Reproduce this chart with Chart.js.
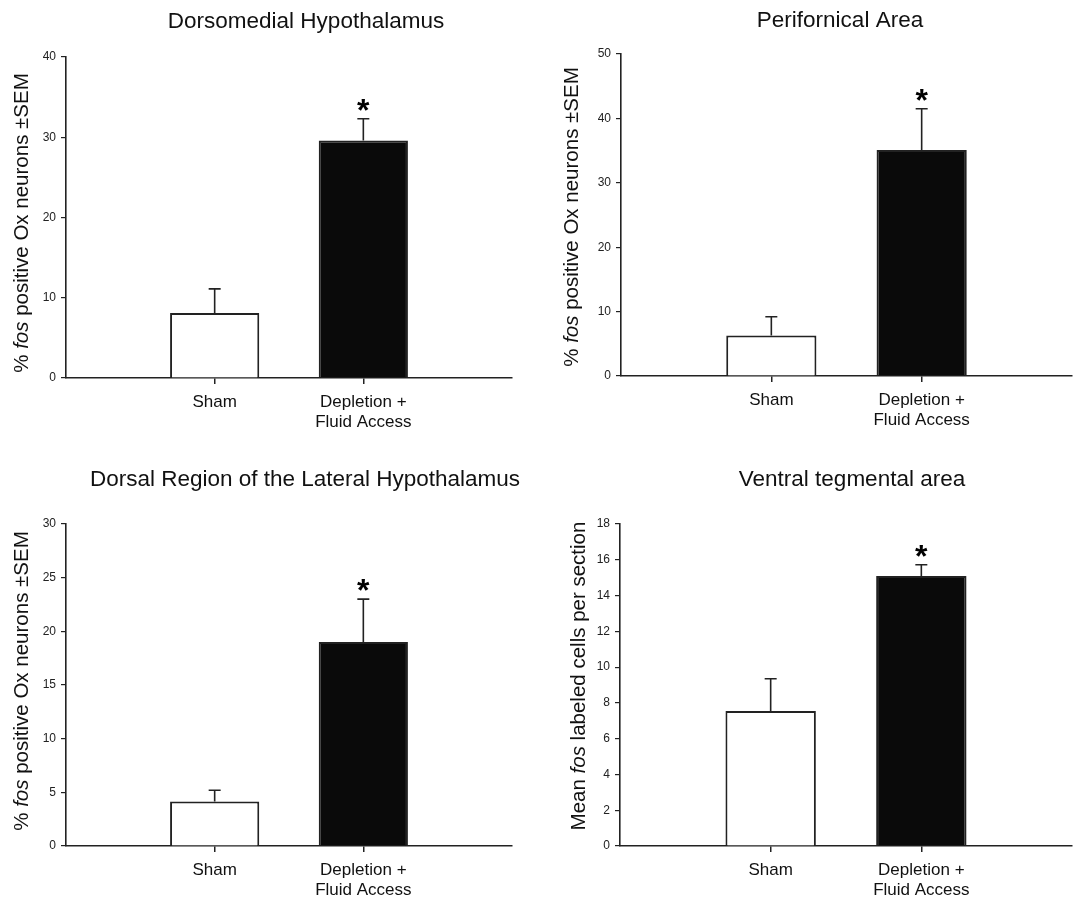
<!DOCTYPE html>
<html>
<head>
<meta charset="utf-8">
<script src="https://cdn.jsdelivr.net/npm/chart.js@4"></script>
<style>
  body { margin: 0; background: #fff; }
  #wrap { position: relative; width: 1073px; height: 898px; }
  canvas { position: absolute; }
</style>
</head>
<body>
<div id="wrap">
  <canvas id="dmh" width="536" height="449" style="left:0;top:0"></canvas>
  <canvas id="pef" width="537" height="449" style="left:536px;top:0"></canvas>
  <canvas id="dlh" width="536" height="449" style="left:0;top:449px"></canvas>
  <canvas id="vta" width="537" height="449" style="left:536px;top:449px"></canvas>
</div>
<script>
// Data
const groups = ['Sham', ['Depletion +', 'Fluid Access']];
const barColors = ['#ffffff', '#0a0a0a'];
const sigMarks = ['', '*'];

const dmhMeans = [8.1, 29.6];
const dmhSem = [3.0, 2.7];
const dmhTicks = [0, 10, 20, 30, 40];

const pefMeans = [6.3, 35.1];
const pefSem = [2.9, 6.4];
const pefTicks = [0, 10, 20, 30, 40, 50];

const dlhMeans = [4.15, 19.0];
const dlhSem = [1.05, 4.0];
const dlhTicks = [0, 5, 10, 15, 20, 25, 30];

const vtaMeans = [7.55, 15.1];
const vtaSem = [1.8, 0.62];
const vtaTicks = [0, 2, 4, 6, 8, 10, 12, 14, 16, 18];

const oxTitle = [['% ', false], ['fos', true], [' positive Ox neurons \u00b1SEM', false]];
const vtaTitle = [['Mean ', false], ['fos', true], [' labeled cells per section', false]];

const FONT = '"Liberation Sans", Arial, sans-serif';
Chart.defaults.font.family = FONT;
Chart.defaults.color = '#222';

const INK = '#222';

// Draws panel title, y title (with italic part), error bars and asterisks
const decor = {
    id: 'decor',
    afterDatasetsDraw(chart, args, opts) {
        const ctx = chart.ctx;
        const xs = chart.scales.x;
        const ys = chart.scales.y;
        ctx.save();
        ctx.strokeStyle = INK;
        ctx.lineWidth = 1.6;
        opts.means.forEach((m, i) => {
            const x = xs.getPixelForValue(i + 1);
            const yb = ys.getPixelForValue(m);
            const yt = ys.getPixelForValue(m + opts.sem[i]);
            ctx.beginPath();
            ctx.moveTo(x, yb);
            ctx.lineTo(x, yt);
            ctx.moveTo(x - 6, yt);
            ctx.lineTo(x + 6, yt);
            ctx.stroke();
            if (sigMarks[i]) {
                ctx.fillStyle = '#000';
                ctx.font = 'bold 32px ' + FONT;
                ctx.textAlign = 'center';
                ctx.textBaseline = 'alphabetic';
                ctx.fillText(sigMarks[i], x, yt + 2);
            }
        });
        ctx.restore();
    },
    afterDraw(chart, args, opts) {
        const ctx = chart.ctx;
        ctx.save();
        ctx.fillStyle = '#111';
        ctx.textAlign = 'center';
        ctx.textBaseline = 'alphabetic';
        ctx.font = '22.5px ' + FONT;
        ctx.fillText(opts.title, opts.titleX, opts.titleY);

        // rotated y title with mixed fonts
        const fonts = opts.yParts.map(p => (p[1] ? 'italic ' : '') + '20.5px ' + FONT);
        let total = 0;
        const widths = opts.yParts.map((p, i) => {
            ctx.font = fonts[i];
            const w = ctx.measureText(p[0]).width;
            total += w;
            return w;
        });
        ctx.translate(opts.yTitleX, opts.yTitleY);
        ctx.rotate(-Math.PI / 2);
        ctx.textAlign = 'left';
        ctx.textBaseline = 'middle';
        let pos = -total / 2;
        opts.yParts.forEach((p, i) => {
            ctx.font = fonts[i];
            ctx.fillText(p[0], pos, 0);
            pos += widths[i];
        });
        ctx.restore();
    }
};

function makePanel(id, means, sem, ticks, yParts, box) {
    const canvas = document.getElementById(id);
    const W = canvas.width, H = canvas.height;
    return new Chart(canvas, {
        type: 'bar',
        data: {
            datasets: [{
                data: means.map((v, i) => ({ x: i + 1, y: v })),
                backgroundColor: barColors,
                borderColor: INK,
                borderWidth: 2,
                barPercentage: 0.6,
                categoryPercentage: 1
            }]
        },
        options: {
            responsive: false,
            animation: false,
            events: [],
            layout: {
                padding: { left: 0, top: box.top, right: W - box.right, bottom: 0 }
            },
            plugins: {
                legend: { display: false },
                tooltip: { enabled: false },
                decor: {
                    means: means,
                    sem: sem,
                    yParts: yParts,
                    title: box.title,
                    titleX: box.titleX,
                    titleY: box.titleY,
                    yTitleX: box.yTitleX,
                    yTitleY: box.yTitleY
                }
            },
            scales: {
                x: {
                    type: 'linear',
                    min: 0,
                    max: 3,
                    offset: false,
                    afterBuildTicks: s => { s.ticks = groups.map((g, i) => ({ value: i + 1 })); },
                    afterFit: s => { s.height = H - box.bottom; },
                    grid: { offset: false, drawOnChartArea: false, color: INK, lineWidth: 1.5, tickLength: 6 },
                    border: { color: INK, width: 1.6 },
                    ticks: {
                        padding: 8,
                        maxRotation: 0,
                        autoSkip: false,
                        color: '#111',
                        font: { size: 17, lineHeight: 1.18 },
                        callback: v => groups[v - 1]
                    }
                },
                y: {
                    min: ticks[0],
                    max: ticks[ticks.length - 1],
                    afterBuildTicks: s => { s.ticks = ticks.map(v => ({ value: v })); },
                    afterFit: s => { s.width = box.left; },
                    grid: { drawOnChartArea: false, color: INK, lineWidth: 1.2, tickLength: 5 },
                    border: { color: INK, width: 1.6 },
                    ticks: { padding: 5, color: '#222', font: { size: 12 } }
                }
            }
        },
        plugins: [decor]
    });
}

makePanel('dmh', dmhMeans, dmhSem, dmhTicks, oxTitle,
    { left: 66, right: 512, top: 57, bottom: 378, title: 'Dorsomedial Hypothalamus', titleX: 306, titleY: 28, yTitleX: 22, yTitleY: 223 });
makePanel('pef', pefMeans, pefSem, pefTicks, oxTitle,
    { left: 85, right: 536, top: 54, bottom: 376, title: 'Perifornical Area', titleX: 304, titleY: 27, yTitleX: 36, yTitleY: 217 });
makePanel('dlh', dlhMeans, dlhSem, dlhTicks, oxTitle,
    { left: 66, right: 512, top: 75, bottom: 397, title: 'Dorsal Region of the Lateral Hypothalamus', titleX: 305, titleY: 37, yTitleX: 22, yTitleY: 232 });
makePanel('vta', vtaMeans, vtaSem, vtaTicks, vtaTitle,
    { left: 84, right: 536, top: 75, bottom: 397, title: 'Ventral tegmental area', titleX: 316, titleY: 37, yTitleX: 43, yTitleY: 227 });
</script>
</body>
</html>
